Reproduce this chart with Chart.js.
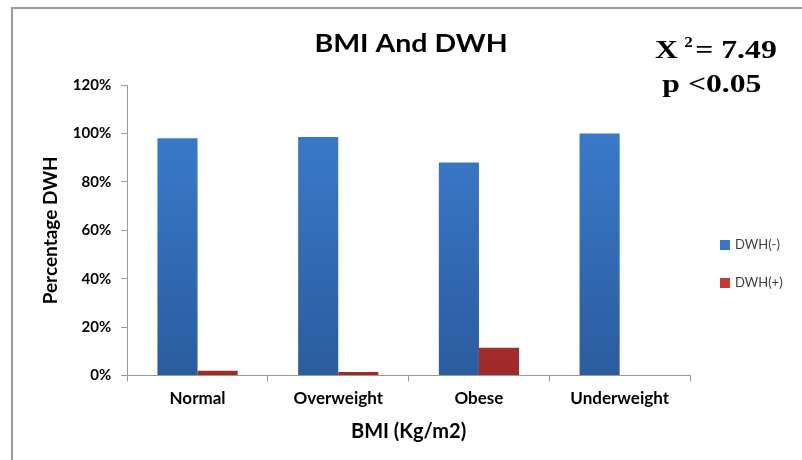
<!DOCTYPE html>
<html>
<head>
<meta charset="utf-8">
<script src="https://cdn.jsdelivr.net/npm/chart.js@4/dist/chart.umd.min.js"></script>
<style>
    body { margin: 0; background: #fff; }
    #wrap { position: relative; width: 802px; height: 460px; }
    #frame { position: absolute; left: 11px; top: 7px; right: 0; bottom: 0; border-top: 2px solid #9a9a9a; border-left: 2px solid #9a9a9a; }
    canvas { position: absolute; left: 0; top: 0; }
</style>
</head>
<body>
<div id="wrap">
    <div id="frame"></div>
    <canvas id="bmi-chart" width="802" height="460"></canvas>
</div>
<script>
var categories = ['Normal', 'Overweight', 'Obese', 'Underweight'];
var dwhNegative = [98, 98.5, 88, 100];
var dwhPositive = [2, 1.5, 11.5, 0];
var yTicks = [0, 20, 40, 60, 80, 100, 120];

var FONT = 'Lato, "Open Sans", sans-serif';
var SERIF = '"Liberation Serif", "Times New Roman", serif';

function barGradient(top, bottom) {
    return function(ctx) {
        var area = ctx.chart.chartArea;
        if (!area) return bottom;
        var g = ctx.chart.ctx.createLinearGradient(0, area.top, 0, area.bottom);
        g.addColorStop(0, top);
        g.addColorStop(1, bottom);
        return g;
    };
}

// title, legend and chi-square note drawn on the canvas
var extras = {
    id: 'extras',
    afterDraw: function(chart) {
        var c = chart.ctx;
        c.save();

        // title (slightly stretched like the original)
        c.save();
        c.translate(411, 52);
        c.scale(1.14, 1);
        c.fillStyle = '#000';
        c.font = 'bold 25px ' + FONT;
        c.textAlign = 'center';
        c.textBaseline = 'alphabetic';
        c.fillText('BMI And DWH', 0, 0);
        c.restore();

        var colors = ['#3a76c4', '#c0393b'];
        chart.data.datasets.forEach(function(ds, i) {
            var y = 245 + i * 38;
            c.fillStyle = colors[i];
            c.fillRect(720, y - 5, 10, 10);
            c.fillStyle = '#404040';
            c.font = '13px ' + FONT;
            c.textBaseline = 'middle';
            c.fillText(ds.label, 735, y);
        });

        c.save();
        c.translate(655, 58);
        c.scale(1.22, 1);
        c.fillStyle = '#000';
        c.textBaseline = 'alphabetic';
        c.font = 'bold 26px ' + SERIF;
        c.fillText('X', 0, 0);
        c.font = 'bold 14px ' + SERIF;
        c.fillText('2', 24, -11);
        c.font = 'bold 26px ' + SERIF;
        c.fillText('= 7.49', 33, 0);
        c.fillText('p <0.05', 6, 34);
        c.restore();

        c.restore();
    }
};

new Chart(document.getElementById('bmi-chart'), {
    type: 'bar',
    data: {
        labels: categories,
        datasets: [{
            label: 'DWH(-)',
            data: dwhNegative,
            backgroundColor: barGradient('#3d7fd2', '#2b5c9e'),
            categoryPercentage: 0.57,
            barPercentage: 1.0
        }, {
            label: 'DWH(+)',
            data: dwhPositive,
            backgroundColor: barGradient('#d2403f', '#9e2a2a'),
            categoryPercentage: 0.57,
            barPercentage: 1.0
        }]
    },
    options: {
        responsive: false,
        animation: false,
        layout: { padding: { left: 39, right: 112, top: 85, bottom: 16 } },
        plugins: {
            legend: { display: false },
            tooltip: { enabled: false },
            title: { display: false }
        },
        scales: {
            x: {
                grid: { display: true, drawOnChartArea: false, offset: true, color: '#9a9a9a', tickLength: 6 },
                border: { color: '#9a9a9a' },
                ticks: { color: '#000', font: { family: FONT, size: 17, weight: 'bold' }, padding: 7 },
                title: { display: true, text: 'BMI (Kg/m2)', color: '#000', font: { family: FONT, size: 20, weight: 'bold' }, padding: { top: 4, bottom: 0 } }
            },
            y: {
                min: 0,
                max: 120,
                afterBuildTicks: function(axis) { axis.ticks = yTicks.map(function(v) { return { value: v }; }); },
                grid: { display: true, drawOnChartArea: false, color: '#9a9a9a', tickLength: 6 },
                border: { color: '#9a9a9a' },
                ticks: { color: '#000', font: { family: FONT, size: 15, weight: 'bold' }, padding: 10, callback: function(v) { return v + '%'; } },
                title: { display: true, text: 'Percentage DWH', color: '#000', font: { family: FONT, size: 19, weight: 'bold' }, padding: { top: 0, bottom: 1 } }
            }
        }
    },
    plugins: [extras]
});
</script>
</body>
</html>
